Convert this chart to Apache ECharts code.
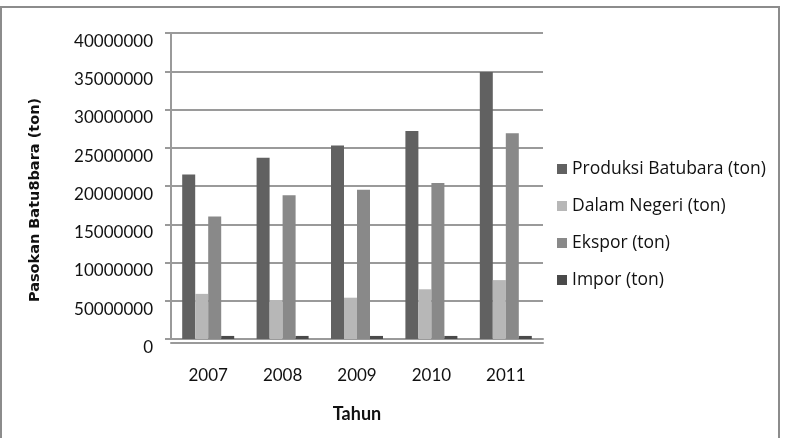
<!DOCTYPE html>
<html>
<head>
<meta charset="utf-8">
<script src="https://cdn.jsdelivr.net/npm/echarts@6/dist/echarts.min.js"></script>
<style>
html,body{margin:0;padding:0;background:#fff;}
#chart{width:786px;height:438px;}
</style>
</head>
<body>
<div id="chart"></div>
<script>
const categories = ['2007', '2008', '2009', '2010', '2011'];
const produksi = [21500000, 23700000, 25300000, 27200000, 34900000];
const dalamNegeri = [5900000, 5100000, 5400000, 6500000, 7700000];
const ekspor = [16000000, 18800000, 19500000, 20400000, 26900000];
const impor = [400000, 400000, 400000, 400000, 400000];
const seriesNames = ['Produksi Batubara (ton)', 'Dalam Negeri (ton)', 'Ekspor (ton)', 'Impor (ton)'];
const yTickLabels = ['0', '50000000', '10000000', '15000000', '20000000', '25000000', '30000000', '35000000', '40000000'];

const colors = ['#616161', '#b7b7b7', '#898989', '#4a4a4a'];
const seriesData = [produksi, dalamNegeri, ekspor, impor];

const chart = echarts.init(document.getElementById('chart'));
chart.setOption({
  animation: false,
  backgroundColor: '#ffffff',
  graphic: [{
    type: 'rect',
    shape: { x: 1, y: 7, width: 778, height: 440 },
    style: { fill: 'none', stroke: '#8c8c8c', lineWidth: 2 },
    silent: true
  }],
  grid: { left: 171, right: 243, top: 33, bottom: 99 },
  legend: {
    orient: 'vertical',
    left: 557,
    top: 160,
    padding: 0,
    itemWidth: 10,
    itemHeight: 10,
    itemGap: 19,
    icon: 'rect',
    textStyle: { fontFamily: 'Open Sans', fontSize: 17.5, color: '#111' },
    data: seriesNames
  },
  xAxis: [{
    type: 'category',
    data: categories,
    axisLine: { show: true, lineStyle: { color: '#9a9a9a', width: 2 } },
    axisTick: { show: false },
    axisLabel: { fontFamily: 'Lato', fontSize: 17, color: '#111', margin: 28 },
    name: 'Tahun',
    nameLocation: 'middle',
    nameGap: 66,
    nameTextStyle: { fontFamily: 'Lato', fontWeight: 'bold', fontSize: 18, color: '#111' }
  }, {
    type: 'category',
    data: categories,
    position: 'bottom',
    offset: 4,
    axisLine: { show: true, lineStyle: { color: '#9a9a9a', width: 2 } },
    axisTick: { show: false },
    axisLabel: { show: false }
  }],
  yAxis: {
    type: 'value',
    min: 0,
    max: 40000000,
    interval: 5000000,
    axisLine: { show: true, lineStyle: { color: '#9a9a9a', width: 2 } },
    axisTick: { show: true, length: 6, lineStyle: { color: '#9a9a9a', width: 2 } },
    splitLine: { show: true, lineStyle: { color: '#9a9a9a', width: 2 } },
    axisLabel: {
      fontFamily: 'Lato', fontSize: 17, color: '#111', margin: 18,
      verticalAlign: 'top',
      formatter: function (v) { return yTickLabels[Math.round(v / 5000000)]; }
    },
    name: 'Pasokan Batu8bara (ton)',
    nameLocation: 'middle',
    nameGap: 128,
    nameTextStyle: { fontFamily: 'DejaVu Sans', fontWeight: 'bold', fontSize: 14.5, color: '#111', padding: [0, 28, 0, 0] }
  },
  series: seriesData.map(function (d, i) {
    return {
      name: seriesNames[i],
      type: 'bar',
      data: d,
      barWidth: 13,
      barGap: '0%',
      itemStyle: { color: colors[i] }
    };
  })
});
</script>
</body>
</html>
